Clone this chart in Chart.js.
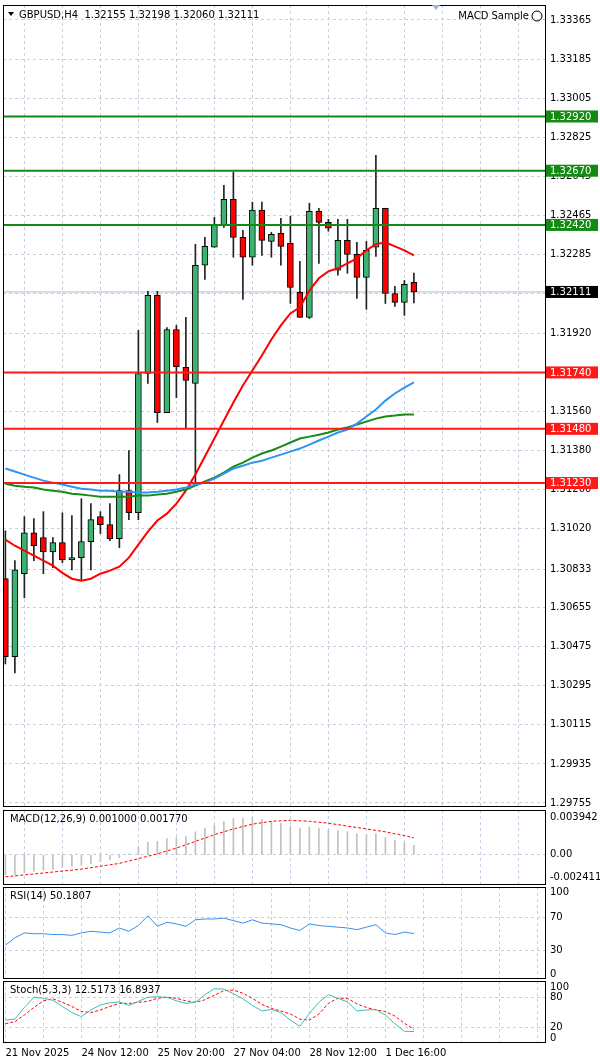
<!DOCTYPE html>
<html>
<head>
<meta charset="utf-8">
<script src="https://cdn.jsdelivr.net/npm/chart.js@4"></script>
<style>
  body { margin: 0; background: #fff; }
  #wrap { position: relative; width: 600px; height: 1064px; overflow: hidden; }
  .pane { position: absolute; left: 0; width: 600px; }
</style>
</head>
<body>
<div id="wrap">
  <div class="pane" style="top:0;height:808px"><canvas id="main" width="600" height="808"></canvas></div>
  <div class="pane" style="top:807px;height:79px"><canvas id="macd" width="600" height="79"></canvas></div>
  <div class="pane" style="top:884px;height:96px"><canvas id="rsi" width="600" height="96"></canvas></div>
  <div class="pane" style="top:978px;height:86px"><canvas id="stoch" width="600" height="86"></canvas></div>
</div>
<script>
// GBPUSD H4 candles
const opens  = [1.30789,1.30429,1.30812,1.31001,1.30978,1.30913,1.30955,1.30876,1.30886,1.30960,1.31075,1.31038,1.30973,1.31195,1.31093,1.31735,1.32095,1.31555,1.31938,1.31763,1.31689,1.32234,1.32317,1.32418,1.32538,1.32363,1.32271,1.32488,1.32344,1.32381,1.32335,1.32109,1.31994,1.32483,1.32432,1.32211,1.32349,1.32284,1.32178,1.32317,1.32497,1.32104,1.32063,1.32155];
const highs  = [1.31010,1.30872,1.31075,1.31066,1.31098,1.30978,1.31093,1.31080,1.31158,1.31135,1.31098,1.31135,1.31269,1.31380,1.31934,1.32114,1.32114,1.31947,1.31957,1.31994,1.32331,1.32363,1.32455,1.32603,1.32663,1.32395,1.32525,1.32525,1.32386,1.32451,1.32460,1.32252,1.32520,1.32497,1.32446,1.32446,1.32446,1.32340,1.32344,1.32741,1.32497,1.32137,1.32164,1.32198];
const lows   = [1.30396,1.30355,1.30701,1.30872,1.30812,1.30840,1.30863,1.30830,1.30780,1.30830,1.30997,1.30964,1.30932,1.31061,1.31061,1.31689,1.31509,1.31555,1.31624,1.31481,1.31218,1.32169,1.32317,1.32409,1.32271,1.32077,1.32234,1.32280,1.32271,1.32234,1.32058,1.31994,1.31989,1.32243,1.32391,1.32188,1.32197,1.32081,1.32031,1.32275,1.32058,1.32044,1.32003,1.32060];
const closes = [1.30429,1.30830,1.31001,1.30941,1.30913,1.30955,1.30876,1.30886,1.30960,1.31061,1.31038,1.30973,1.31195,1.31093,1.31735,1.32095,1.31555,1.31938,1.31767,1.31703,1.32234,1.32321,1.32418,1.32538,1.32363,1.32271,1.32488,1.32349,1.32377,1.32321,1.32132,1.31994,1.32483,1.32432,1.32405,1.32349,1.32284,1.32178,1.32303,1.32497,1.32104,1.32063,1.32146,1.32111];

// moving averages
const maRed   = [1.30969,1.30941,1.30918,1.30895,1.30872,1.30849,1.30816,1.30789,1.30780,1.30789,1.30812,1.30826,1.30844,1.30886,1.30946,1.31006,1.31057,1.31089,1.31135,1.31195,1.31269,1.31352,1.31435,1.31518,1.31601,1.31680,1.31749,1.31818,1.31892,1.31957,1.32012,1.32040,1.32118,1.32174,1.32206,1.32220,1.32243,1.32266,1.32303,1.32331,1.32340,1.32321,1.32303,1.32280];
const maBlue  = [1.31297,1.31283,1.31269,1.31255,1.31241,1.31232,1.31223,1.31213,1.31204,1.31200,1.31195,1.31195,1.31190,1.31190,1.31186,1.31186,1.31190,1.31195,1.31200,1.31209,1.31223,1.31232,1.31250,1.31273,1.31297,1.31310,1.31324,1.31333,1.31347,1.31361,1.31375,1.31389,1.31407,1.31426,1.31444,1.31463,1.31477,1.31504,1.31537,1.31569,1.31610,1.31643,1.31670,1.31694];
const maGreen = [1.31227,1.31218,1.31213,1.31209,1.31200,1.31195,1.31190,1.31181,1.31177,1.31172,1.31167,1.31167,1.31167,1.31167,1.31172,1.31172,1.31177,1.31181,1.31190,1.31200,1.31218,1.31237,1.31255,1.31278,1.31306,1.31324,1.31347,1.31366,1.31380,1.31398,1.31417,1.31435,1.31444,1.31453,1.31463,1.31477,1.31486,1.31500,1.31513,1.31527,1.31537,1.31541,1.31546,1.31546];

// horizontal levels
const greenLevels = [1.32920, 1.32670, 1.32420];
const redLevels = [1.31740, 1.31480, 1.31230];
const lastPrice = 1.32111;
const priceTicks = [1.33365,1.33185,1.33005,1.32825,1.32645,1.32465,1.32285,1.32105,1.31920,1.31740,1.31560,1.31380,1.31200,1.31020,1.30833,1.30655,1.30475,1.30295,1.30115,1.29935,1.29755];

// indicators
const macdHist = [-0.0021,-0.0021,-0.0019,-0.0017,-0.0016,-0.0015,-0.0013,-0.0012,-0.0011,-0.0009,-0.0007,-0.0005,-0.0003,0.0001,0.0008,0.0013,0.0014,0.0017,0.0018,0.0019,0.0024,0.0028,0.0031,0.0035,0.0038,0.0038,0.0039,0.0037,0.0035,0.0033,0.0030,0.0028,0.0029,0.0028,0.0026,0.0025,0.0024,0.0022,0.0021,0.0022,0.0018,0.0015,0.0013,0.0010];
const macdSignal = [-0.0023,-0.0022,-0.0021,-0.0020,-0.0019,-0.0018,-0.0017,-0.0016,-0.0015,-0.00135,-0.0012,-0.00105,-0.0009,-0.00065,-0.0004,-0.00015,0.0001,0.0004,0.0007,0.00105,0.0014,0.00175,0.0021,0.0024,0.0027,0.00295,0.0032,0.00335,0.0035,0.00355,0.0036,0.00355,0.0035,0.0034,0.0033,0.00315,0.0030,0.00285,0.0027,0.00255,0.0024,0.0022,0.0020,0.00177];
const macdTicks = [0.003942, 0, -0.002411];
const rsiValues = [36,45,51,50,50,49,49,48,51,53,52,51,57,53,60,72,59,64,62,59,67,68,68,69,66,63,67,63,62,61,57,54,62,60,59,58,57,55,58,61,51,49,52,50.18];
const stochMain = [35,37,60,80,78,74,62,50,42,55,65,69,71,64,72,80,81,80,73,68,70,85,97,96,87,77,64,53,56,50,35,23,48,70,85,78,71,53,55,56,45,28,13,12.52];
const stochSignal = [28,32,45,60,73,77,70,62,52,50,55,62,68,68,70,72,78,80,78,73,70,75,84,93,94,88,78,66,58,53,47,37,35,47,68,78,78,67,60,55,52,43,29,16.89];
const dateLabels = ["21 Nov 2025","24 Nov 12:00","25 Nov 20:00","27 Nov 04:00","28 Nov 12:00","1 Dec 16:00"];

const FONT = { family: "DejaVu Sans", size: 10 };
const GRID = "#c4d0e2";
const idx = opens.map((_, i) => i);
const pts = arr => arr.map((v, i) => ({ x: i, y: v }));

function xScale(showLabels) {
  return {
    type: "linear", min: -0.25, max: 56.8, offset: false,
    grid: { color: GRID, drawTicks: false },
    border: { display: false, dash: [3, 3] },
    afterBuildTicks: ax => { ax.ticks = []; for (let v = 0; v <= 56; v += 4) ax.ticks.push({ value: v }); },
    afterFit: ax => { ax.height = showLabels ? 20 : 0; ax.paddingLeft = 0; ax.paddingRight = 0; },
    ticks: {
      display: showLabels, autoSkip: false, maxRotation: 0, align: "start", padding: 5,
      font: FONT, color: "#000",
      callback: v => (v % 8 === 0 && dateLabels[v / 8]) ? dateLabels[v / 8] : ""
    }
  };
}

function yScale(min, max, ticks, fmt, gridFn) {
  return {
    position: "right", min: min, max: max,
    border: { display: false, dash: [3, 3] },
    grid: { drawTicks: false, color: gridFn || GRID },
    afterBuildTicks: ax => { ax.ticks = ticks.map(v => ({ value: v })); },
    afterFit: ax => { ax.width = 55; ax.paddingTop = 0; ax.paddingBottom = 0; },
    ticks: { padding: 5, font: FONT, color: "#000", autoSkip: false, callback: fmt }
  };
}

// frame + captions + price boxes
const decor = {
  id: "decor",
  afterDraw(chart, args, o) {
    const c = chart.ctx, a = chart.chartArea;
    c.save();
    c.strokeStyle = "#000"; c.lineWidth = 1;
    c.strokeRect(a.left + 0.5, a.top + 0.5, a.right - a.left, a.bottom - a.top);
    c.font = "10px DejaVu Sans"; c.fillStyle = "#000"; c.textBaseline = "middle";
    if (o.caption) c.fillText(o.caption, a.left + 7, a.top + 9);
    (o.boxes || []).forEach(b => {
      const y = chart.scales.y.getPixelForValue(b.v);
      c.fillStyle = b.bg; c.fillRect(a.right + 1, y - 6, 52, 12);
      c.fillStyle = "#fff"; c.fillText(b.v.toFixed(5), a.right + 5, y + 0.5);
    });
    if (o.header) {
      c.fillStyle = "#000";
      c.beginPath(); c.moveTo(a.left + 5, a.top + 7); c.lineTo(a.left + 11, a.top + 7); c.lineTo(a.left + 8, a.top + 11); c.fill();
      c.fillText("GBPUSD,H4  1.32155 1.32198 1.32060 1.32111", a.left + 16, a.top + 10);
      c.textAlign = "right";
      c.fillText("MACD Sample", a.right - 16, a.top + 11);
      c.beginPath(); c.arc(a.right - 8, a.top + 11, 5, 0, Math.PI * 2); c.stroke();
      c.fillStyle = "#9fb6d6";
      c.beginPath(); c.moveTo(a.right - 113, a.top); c.lineTo(a.right - 105, a.top); c.lineTo(a.right - 109, a.top + 5); c.fill();
    }
    c.restore();
  }
};

const levelLine = (v, color, w) => ({
  type: "line", data: [{ x: -0.25, y: v }, { x: 56.8, y: v }],
  borderColor: color, borderWidth: w, pointRadius: 0, order: 0
});

const base = { responsive: false, maintainAspectRatio: false, animation: false, devicePixelRatio: 1 };

new Chart(document.getElementById("main"), {
  type: "bar",
  data: {
    datasets: [
      { data: idx.map(i => ({ x: i, y: [lows[i], highs[i]] })), backgroundColor: "#222", barThickness: 1, grouped: false, order: 3 },
      { data: idx.map(i => ({ x: i, y: [opens[i], closes[i]] })),
        backgroundColor: idx.map(i => closes[i] >= opens[i] ? "#3cb371" : "#ff0000"),
        borderColor: "#000", borderWidth: 1, borderSkipped: false, barThickness: 6, grouped: false, order: 2, minBarLength: 1 },
      { type: "line", data: [{ x: -0.25, y: lastPrice }, { x: 56.8, y: lastPrice }], borderColor: "#a9bcd6", borderWidth: 1, pointRadius: 0, order: 4 },
      ...greenLevels.map(v => levelLine(v, "#138a13", 2)),
      ...redLevels.map(v => levelLine(v, "#ff1a1a", 2)),
      { type: "line", data: pts(maBlue), borderColor: "#2f95f0", borderWidth: 2, pointRadius: 0, order: 1 },
      { type: "line", data: pts(maGreen), borderColor: "#168c16", borderWidth: 2, pointRadius: 0, order: 1 },
      { type: "line", data: pts(maRed), borderColor: "#ff0000", borderWidth: 2, pointRadius: 0, order: 1 }
    ]
  },
  options: {
    ...base,
    layout: { padding: { left: 3, top: 5, bottom: 2 } },
    plugins: {
      legend: { display: false }, tooltip: { enabled: false },
      decor: {
        header: true,
        boxes: [
          ...greenLevels.map(v => ({ v, bg: "#138a13" })),
          ...redLevels.map(v => ({ v, bg: "#ff1a1a" })),
          { v: lastPrice, bg: "#000" }
        ]
      }
    },
    scales: {
      x: xScale(false),
      y: yScale(1.29741, 1.33434, priceTicks, v => v.toFixed(5))
    }
  },
  plugins: [decor]
});

new Chart(document.getElementById("macd"), {
  type: "bar",
  data: {
    datasets: [
      { data: pts(macdHist), backgroundColor: "#c0c0c0", barThickness: 1, order: 2 },
      { type: "line", data: pts(macdSignal), borderColor: "#ff0000", borderWidth: 1, borderDash: [3, 2], pointRadius: 0, order: 1 }
    ]
  },
  options: {
    ...base,
    layout: { padding: { left: 3, top: 3, bottom: 2 } },
    plugins: { legend: { display: false }, tooltip: { enabled: false }, decor: { caption: "MACD(12,26,9) 0.001000 0.001770" } },
    scales: {
      x: xScale(false),
      y: yScale(-0.00305, 0.00468, macdTicks, v => v === 0 ? "0.00" : v.toFixed(6), c => c.tick && c.tick.value === 0 ? GRID : "rgba(0,0,0,0)")
    }
  },
  plugins: [decor]
});

new Chart(document.getElementById("rsi"), {
  type: "line",
  data: { datasets: [{ data: pts(rsiValues), borderColor: "#3a8fe8", borderWidth: 1, pointRadius: 0 }] },
  options: {
    ...base,
    layout: { padding: { left: 3, top: 3, bottom: 2 } },
    plugins: { legend: { display: false }, tooltip: { enabled: false }, decor: { caption: "RSI(14) 50.1807" } },
    scales: {
      x: xScale(false),
      y: yScale(-4, 107, [100, 70, 30, 0], v => String(v), c => c.tick && (c.tick.value === 70 || c.tick.value === 30) ? GRID : "rgba(0,0,0,0)")
    }
  },
  plugins: [decor]
});

new Chart(document.getElementById("stoch"), {
  type: "line",
  data: {
    datasets: [
      { data: pts(stochMain), borderColor: "#3dbcb4", borderWidth: 1, pointRadius: 0 },
      { data: pts(stochSignal), borderColor: "#ff0000", borderWidth: 1, borderDash: [3, 2], pointRadius: 0 }
    ]
  },
  options: {
    ...base,
    layout: { padding: { left: 3, top: 3, bottom: 2 } },
    plugins: { legend: { display: false }, tooltip: { enabled: false }, decor: { caption: "Stoch(5,3,3) 12.5173 16.8937" } },
    scales: {
      x: xScale(true),
      y: yScale(-8, 112, [100, 80, 20, 0], v => String(v), c => c.tick && (c.tick.value === 80 || c.tick.value === 20) ? GRID : "rgba(0,0,0,0)")
    }
  },
  plugins: [decor]
});
</script>
</body>
</html>
